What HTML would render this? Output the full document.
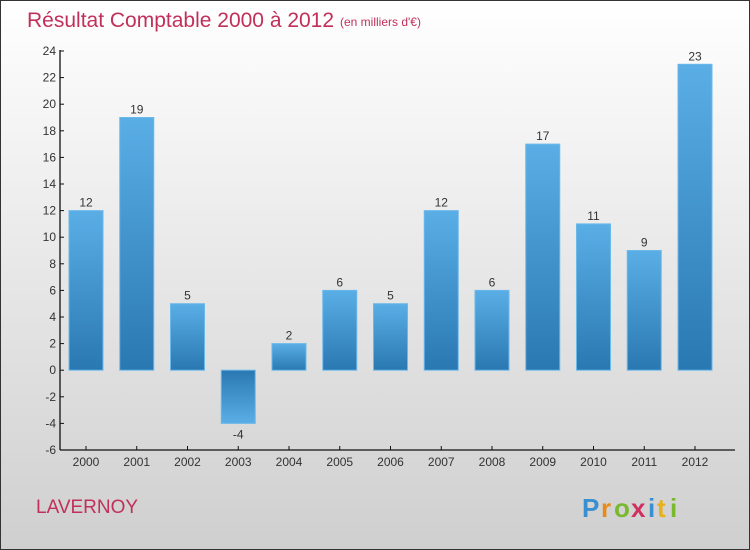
<!DOCTYPE html>
<html><head><meta charset="utf-8"><style>
body{margin:0;}
#wrap{width:750px;height:550px;position:relative;overflow:hidden;}
svg text{font-family:"Liberation Sans",sans-serif;}
</style></head><body>
<div id="wrap">
<svg id="chart" width="750" height="550" xmlns="http://www.w3.org/2000/svg">
<defs>
<linearGradient id="bg" x1="0" y1="0" x2="0" y2="1"><stop offset="0" stop-color="#ffffff"/><stop offset="1" stop-color="#cfcfcf"/></linearGradient>
<linearGradient id="pos" x1="0" y1="0" x2="0" y2="1"><stop offset="0" stop-color="#5aaee6"/><stop offset="1" stop-color="#2a78b2"/></linearGradient>
<linearGradient id="neg" x1="0" y1="0" x2="0" y2="1"><stop offset="0" stop-color="#2a78b2"/><stop offset="1" stop-color="#5aaee6"/></linearGradient>
</defs>
<rect x="0.5" y="0.5" width="749" height="549" fill="url(#bg)" stroke="#333"/>
<text x="27" y="27" font-size="21" fill="#c0305a">Résultat Comptable 2000 à 2012</text>
<text x="340" y="26" font-size="12" fill="#c0305a">(en milliers d'€)</text>
<text x="36" y="513" font-size="19" fill="#c0305a">LAVERNOY</text>
<g font-size="26" font-weight="bold">
<text x="582" y="517" fill="#3a8fd0">P</text><text x="601" y="517" fill="#e88a1a">r</text><text x="614" y="517" fill="#7ab82e">o</text><text x="631" y="517" fill="#d03060">x</text><text x="648" y="517" fill="#3a8fd0">i</text><text x="657" y="517" fill="#e8b01a">t</text><text x="670" y="517" fill="#7ab82e">i</text>
</g>
<g id="axes"></g><g id="bars"></g>
</svg>
</div>
<script>
const categories=["2000","2001","2002","2003","2004","2005","2006","2007","2008","2009","2010","2011","2012"];
const values=[12,19,5,-4,2,6,5,12,6,17,11,9,23];
const yTicks=[-6,-4,-2,0,2,4,6,8,10,12,14,16,18,20,22,24];
const NS="http://www.w3.org/2000/svg";
const y0=370.2, unit=13.3;
function y(v){return y0-v*unit;}
function xc(i){return 86+i*50.75;}
function mk(t,a,p){const e=document.createElementNS(NS,t);for(const k in a)e.setAttribute(k,a[k]);p.appendChild(e);return e;}
const ax=document.getElementById('axes'), bars=document.getElementById('bars');
let l=mk('line',{x1:60,y1:y(24)-1,x2:60,y2:y(-6),stroke:'#111','stroke-width':1.3},ax);


l=mk('line',{x1:60,y1:y(-6),x2:735,y2:y(-6),stroke:'#111','stroke-width':1.3},ax);


yTicks.forEach(t=>{
 mk('line',{x1:60,y1:y(t),x2:64,y2:y(t),stroke:'#111'},ax);
 const tx=mk('text',{x:56,y:y(t)+4,'font-size':12,'text-anchor':'end',fill:'#333'},ax);
 tx.textContent=t;
 
 
});
categories.forEach((c,i)=>{
 mk('line',{x1:xc(i),y1:y(-6),x2:xc(i),y2:y(-6)-4,stroke:'#111'},ax);
 const tx=mk('text',{x:xc(i),y:y(-6)+16,'font-size':12,'text-anchor':'middle',fill:'#333'},ax);
 tx.textContent=c;
 
 
 const v=values[i], top=Math.min(y(v),y(0)), h=Math.abs(y(v)-y(0));
 const r=mk('rect',{x:xc(i)-17,y:top,width:34,height:h,fill:v>=0?'url(#pos)':'url(#neg)',stroke:'#6bb8ea','stroke-width':1},bars);
 
 
 const lb=mk('text',{x:xc(i),y:v>=0?y(v)-4:y(v)+15,'font-size':12,'text-anchor':'middle',fill:'#333'},bars);
 lb.textContent=v;
 
 
});
</script>
</body></html>
